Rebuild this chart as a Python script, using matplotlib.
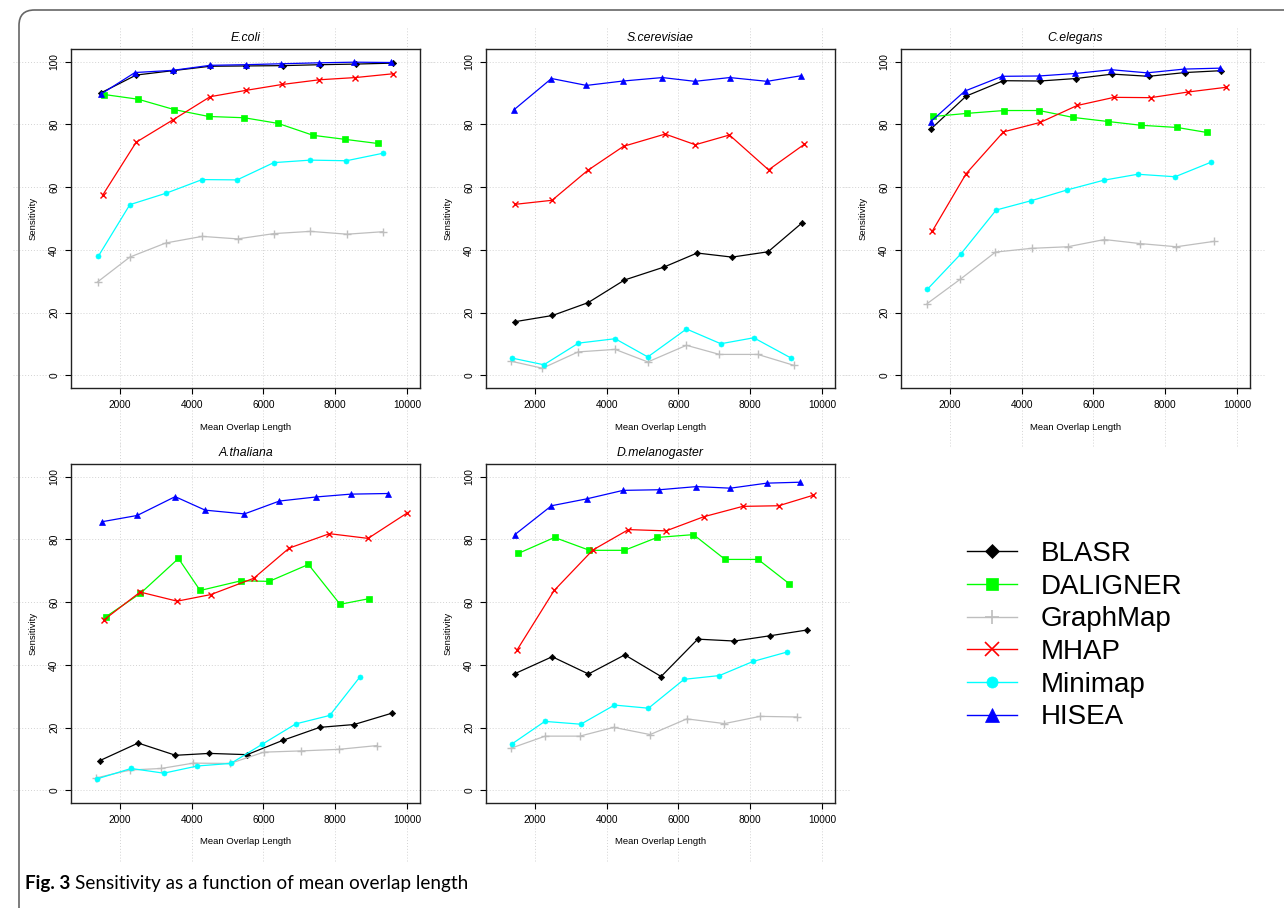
import matplotlib
matplotlib.use('Agg')
import matplotlib.pyplot as plt
from matplotlib.lines import Line2D
from matplotlib.patches import FancyBboxPatch

plt.rcParams['font.family'] = ['Liberation Sans', 'DejaVu Sans']

# tools drawn in every panel (name, colour, marker)
tools = ['BLASR', 'DALIGNER', 'GraphMap', 'MHAP', 'Minimap', 'HISEA']
colors = ['black', '#00FF00', '#BEBEBE', '#FF0000', '#00FFFF', '#0000FF']
markers = ['D', 's', '+', 'x', 'o', '^']

# E.coli
ecoli_x = {
    'BLASR':    [1471, 2455, 3476, 4515, 5517, 6538, 7578, 8580, 9601],
    'DALIGNER': [1564, 2510, 3513, 4478, 5462, 6408, 7383, 8283, 9183],
    'GraphMap': [1380, 2278, 3280, 4292, 5280, 6300, 7308, 8330, 9340],
    'MHAP':     [1520, 2455, 3476, 4515, 5500, 6520, 7560, 8560, 9600],
    'Minimap':  [1397, 2278, 3299, 4292, 5267, 6288, 7308, 8311, 9332],
    'HISEA':    [1471, 2420, 3476, 4515, 5500, 6500, 7540, 8530, 9560],
}
ecoli_y = {
    'BLASR':    [90.0, 95.7, 97.1, 98.5, 98.6, 98.7, 99.0, 99.2, 99.5],
    'DALIGNER': [89.5, 88.0, 84.7, 82.5, 82.1, 80.3, 76.5, 75.2, 73.9],
    'GraphMap': [29.8, 37.7, 42.2, 44.3, 43.5, 45.2, 45.9, 45.0, 45.8],
    'MHAP':     [57.4, 74.3, 81.4, 88.8, 90.8, 92.7, 94.2, 94.9, 96.1],
    'Minimap':  [37.9, 54.4, 58.1, 62.4, 62.3, 67.8, 68.6, 68.4, 70.8],
    'HISEA':    [89.6, 96.5, 97.2, 98.8, 99.0, 99.3, 99.6, 99.8, 99.7],
}

# S.cerevisiae (no DALIGNER result)
scer_x = {
    'BLASR':    [1434, 2492, 3485, 4496, 5591, 6519, 7494, 8497, 9452],
    'GraphMap': [1350, 2213, 3206, 4237, 5146, 6223, 7142, 8209, 9220],
    'MHAP':     [1440, 2480, 3470, 4470, 5630, 6470, 7420, 8510, 9500],
    'Minimap':  [1378, 2251, 3216, 4237, 5146, 6223, 7179, 8097, 9127],
    'HISEA':    [1425, 2464, 3439, 4459, 5554, 6455, 7429, 8469, 9425],
}
scer_y = {
    'BLASR':    [17.1, 19.1, 23.2, 30.4, 34.5, 39.0, 37.7, 39.4, 48.7],
    'GraphMap': [4.5, 2.3, 7.5, 8.3, 4.3, 9.6, 6.7, 6.7, 3.2],
    'MHAP':     [54.5, 55.8, 65.3, 73.0, 76.9, 73.5, 76.6, 65.5, 73.6],
    'Minimap':  [5.5, 3.4, 10.3, 11.7, 5.9, 14.8, 10.1, 12.0, 5.6],
    'HISEA':    [84.7, 94.6, 92.4, 93.8, 94.9, 93.7, 94.9, 93.7, 95.5],
}

# C.elegans
cele_x = {
    'BLASR':    [1462, 2455, 3494, 4506, 5517, 6529, 7540, 8552, 9564],
    'DALIGNER': [1545, 2483, 3513, 4487, 5434, 6408, 7327, 8329, 9165],
    'GraphMap': [1369, 2297, 3271, 4283, 5285, 6306, 7308, 8311, 9350],
    'MHAP':     [1508, 2455, 3494, 4515, 5545, 6575, 7596, 8635, 9693],
    'Minimap':  [1378, 2306, 3290, 4274, 5267, 6288, 7234, 8274, 9267],
    'HISEA':    [1462, 2418, 3457, 4478, 5490, 6501, 7494, 8524, 9527],
}
cele_y = {
    'BLASR':    [78.4, 89.0, 93.9, 93.8, 94.6, 96.0, 95.3, 96.5, 97.1],
    'DALIGNER': [82.5, 83.5, 84.4, 84.4, 82.2, 80.9, 79.7, 79.0, 77.4],
    'GraphMap': [22.9, 30.7, 39.3, 40.5, 41.0, 43.3, 42.0, 41.0, 42.7],
    'MHAP':     [45.9, 64.3, 77.6, 80.6, 86.0, 88.6, 88.5, 90.3, 91.8],
    'Minimap':  [27.5, 38.7, 52.7, 55.7, 59.1, 62.2, 64.1, 63.3, 67.9],
    'HISEA':    [80.8, 90.6, 95.3, 95.4, 96.2, 97.4, 96.4, 97.6, 97.9],
}

# A.thaliana
atha_x = {
    'BLASR':    [1443, 2510, 3550, 4497, 5545, 6548, 7568, 8524, 9573],
    'DALIGNER': [1620, 2575, 3633, 4237, 5378, 6158, 7253, 8134, 8942],
    'GraphMap': [1350, 2278, 3151, 4042, 5072, 6009, 7058, 8106, 9165],
    'MHAP':     [1564, 2566, 3596, 4534, 5731, 6715, 7838, 8914, 9990],
    'Minimap':  [1369, 2316, 3225, 4162, 5090, 5963, 6900, 7847, 8682],
    'HISEA':    [1499, 2483, 3541, 4376, 5471, 6445, 7466, 8431, 9480],
}
atha_y = {
    'BLASR':    [9.5, 15.1, 11.2, 11.8, 11.4, 16.0, 20.1, 21.0, 24.6],
    'DALIGNER': [55.4, 62.8, 73.9, 63.7, 66.8, 66.6, 72.0, 59.3, 61.1],
    'GraphMap': [4.0, 6.5, 7.0, 8.7, 8.6, 12.2, 12.6, 13.1, 14.3],
    'MHAP':     [54.4, 63.2, 60.3, 62.4, 67.6, 77.2, 81.8, 80.3, 88.3],
    'Minimap':  [3.7, 7.0, 5.5, 7.8, 8.6, 14.7, 21.2, 23.9, 36.1],
    'HISEA':    [85.6, 87.6, 93.6, 89.3, 88.1, 92.2, 93.5, 94.4, 94.6],
}

# D.melanogaster
dmel_x = {
    'BLASR':    [1443, 2483, 3494, 4506, 5517, 6538, 7559, 8561, 9573],
    'DALIGNER': [1536, 2548, 3522, 4497, 5406, 6418, 7299, 8218, 9081],
    'GraphMap': [1323, 2288, 3253, 4199, 5211, 6232, 7281, 8274, 9295],
    'MHAP':     [1508, 2538, 3615, 4608, 5657, 6705, 7791, 8793, 9740],
    'Minimap':  [1360, 2278, 3281, 4218, 5165, 6158, 7142, 8079, 9025],
    'HISEA':    [1443, 2464, 3448, 4459, 5471, 6501, 7448, 8459, 9397],
}
dmel_y = {
    'BLASR':    [37.2, 42.6, 37.1, 43.2, 36.3, 48.2, 47.6, 49.3, 51.1],
    'DALIGNER': [75.5, 80.6, 76.5, 76.5, 80.6, 81.5, 73.6, 73.6, 65.9],
    'GraphMap': [13.4, 17.3, 17.3, 20.1, 17.8, 22.8, 21.3, 23.6, 23.4],
    'MHAP':     [44.8, 63.7, 76.6, 83.1, 82.7, 87.2, 90.5, 90.7, 94.0],
    'Minimap':  [14.8, 22.0, 21.1, 27.2, 26.2, 35.4, 36.6, 41.1, 44.1],
    'HISEA':    [81.5, 90.7, 92.9, 95.6, 95.8, 96.8, 96.3, 97.9, 98.2],
}

species = ['E.coli', 'S.cerevisiae', 'C.elegans', 'A.thaliana', 'D.melanogaster']
xs = [ecoli_x, scer_x, cele_x, atha_x, dmel_x]
ys = [ecoli_y, scer_y, cele_y, atha_y, dmel_y]

xticks = [2000, 4000, 6000, 8000, 10000]
yticks = [0, 20, 40, 60, 80, 100]

# plot marker sizes (points) for the panels and the legend
msize = {'D': 3.2, 's': 4.2, '+': 5.5, 'x': 4.5, 'o': 3.6, '^': 4.4}
lsize = {'D': 7, 's': 8, '+': 10.5, 'x': 9.5, 'o': 8, '^': 9.5}

W, H = 1284, 908
fig = plt.figure(figsize=(W / 100, H / 100), dpi=100)

# outer frame of the journal figure
frame = FancyBboxPatch((19 / W, -20 / H), 1.2, (H - 10 + 20) / H, transform=fig.transFigure,
                       boxstyle='round,pad=0,rounding_size=0.012', fill=False,
                       edgecolor='#666666', linewidth=1.2, mutation_aspect=W / H)
fig.patches.append(frame)

lefts = [71, 486, 901, 71, 486]
tops = [49, 49, 49, 464, 464]
aw, ah = 349, 339

for i, name in enumerate(species):
    ax = fig.add_axes([lefts[i] / W, 1 - (tops[i] + ah) / H, aw / W, ah / H])
    ax.set_xlim(640, 10360)
    ax.set_ylim(-4, 104)

    # R style grid, drawn over the whole panel region
    for t in xticks:
        ax.plot([t, t], [-58 / ah, 1 + 21 / ah], transform=ax.get_xaxis_transform(),
                color='#D3D3D3', lw=0.7, ls=(0, (1, 2)), clip_on=False, zorder=0)
    for t in yticks:
        ax.plot([-58 / aw, 1 + 14 / aw], [t, t], transform=ax.get_yaxis_transform(),
                color='#D3D3D3', lw=0.7, ls=(0, (1, 2)), clip_on=False, zorder=0)

    for tool, col, mk in zip(tools, colors, markers):
        if tool not in xs[i]:
            continue
        mew = 1.0 if mk in ('+', 'x') else 0.5
        ax.plot(xs[i][tool], ys[i][tool], color=col, lw=0.9, marker=mk,
                markersize=msize[mk], markeredgewidth=mew, markeredgecolor=col,
                zorder=3)

    ax.set_xticks(xticks)
    ax.set_yticks(yticks)
    ax.set_xticklabels([str(t) for t in xticks])
    ax.set_yticklabels([str(t) for t in yticks], rotation=90, va='center')
    ax.tick_params(length=4, width=0.8, labelsize=7.3, pad=4.5, direction='out')
    for sp in ax.spines.values():
        sp.set_linewidth(1.0)
        sp.set_color('#222222')

    ax.text(0.5, 1 + 11 / ah, name, transform=ax.transAxes, ha='center', va='center',
            fontsize=8.8, style='italic')
    ax.set_xlabel('Mean Overlap Length', fontsize=6.8)
    ax.xaxis.set_label_coords(0.5, -39 / ah)
    ax.xaxis.label.set_va('center')
    ax.set_ylabel('Sensitivity', fontsize=6.8)
    ax.yaxis.set_label_coords(-38 / aw, 0.5)
    ax.yaxis.label.set_va('center')

handles = []
for tool, col, mk in zip(tools, colors, markers):
    mew = 1.2 if mk in ('+', 'x') else 0.5
    handles.append(Line2D([], [], color=col, lw=1.0, marker=mk, markersize=lsize[mk],
                          markeredgewidth=mew, markeredgecolor=col))
fig.legend(handles, tools, loc='upper left', bbox_to_anchor=(967 / W, 1 - 541 / H),
           frameon=False, fontsize=20, handlelength=1.8, handletextpad=0.85,
           labelspacing=0.24, borderpad=0, borderaxespad=0)

# caption: bold label followed by regular text
cap_font = ['Lato', 'Liberation Sans', 'DejaVu Sans']
cap_y = 1 - 884 / H
t1 = fig.text(25 / W, cap_y, 'Fig. 3', fontsize=13.6, fontweight='bold', va='center',
              family=cap_font)
rend = fig.canvas.get_renderer()
bb = t1.get_window_extent(rend)
fig.text((bb.x1 + 5) / W, cap_y, 'Sensitivity as a function of mean overlap length',
         fontsize=13.6, va='center', family=cap_font)

fig.savefig('out.png', dpi=100)
